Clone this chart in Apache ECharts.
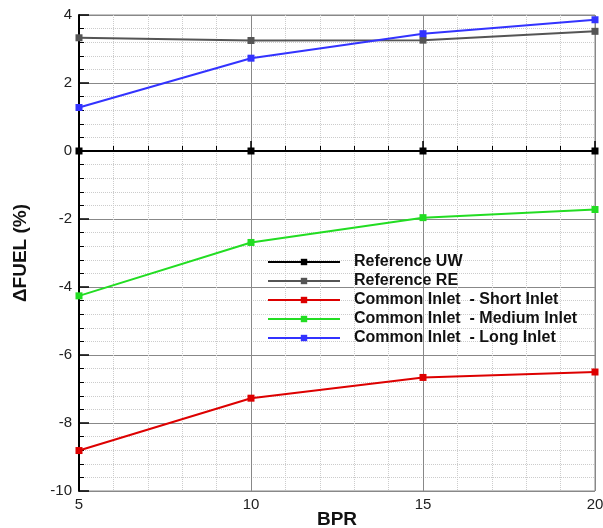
<!DOCTYPE html>
<html>
<head>
<meta charset="utf-8">
<script src="https://cdn.jsdelivr.net/npm/echarts@6/dist/echarts.min.js"></script>
<style>
  html, body { margin: 0; padding: 0; background: #fff; }
  #chart { width: 603px; height: 528px; }
</style>
</head>
<body>
<div id="chart"></div>
<script>
// Bypass ratio values on the x axis
const bpr = [5, 10, 15, 20];

// Fuel burn change (%) per configuration
const referenceUW = [0, 0, 0, 0];
const referenceRE = [3.33, 3.25, 3.26, 3.52];
const shortInlet = [-8.81, -7.27, -6.66, -6.50];
const mediumInlet = [-4.26, -2.69, -1.96, -1.72];
const longInlet = [1.28, 2.73, 3.45, 3.86];

const seriesNames = [
  'Reference UW',
  'Reference RE',
  'Common Inlet  - Short Inlet',
  'Common Inlet  - Medium Inlet',
  'Common Inlet  - Long Inlet'
];
const seriesData = [referenceUW, referenceRE, shortInlet, mediumInlet, longInlet];
const seriesColors = ['#000000', '#555555', '#dd0000', '#22dd22', '#3333ff'];

const chart = echarts.init(document.getElementById('chart'), null, { renderer: 'canvas' });

const font = 'Liberation Sans, Arial, sans-serif';

const series = seriesNames.map((name, i) => ({
  name: name,
  type: 'line',
  data: bpr.map((x, j) => [x, seriesData[i][j]]),
  symbol: 'rect',
  symbolSize: 7,
  lineStyle: { color: seriesColors[i], width: 2 },
  itemStyle: { color: seriesColors[i] },
  z: i === 0 ? 3 : 4
}));

chart.setOption({
  animation: false,
  backgroundColor: '#ffffff',
  grid: {
    left: 79, right: 8, top: 15, bottom: 37,
    outerBoundsMode: 'none',
    containLabel: false,
    show: true, borderColor: '#888888', borderWidth: 1
  },
  legend: {
    orient: 'vertical',
    left: 267, top: 254,
    padding: 0,
    itemWidth: 72, itemHeight: 8,
    itemGap: 3,
    data: seriesNames,
    textStyle: {
      fontFamily: font, fontWeight: 'bold', fontSize: 16, color: '#111',
      padding: [0, 0, 0, 9]
    }
  },
  xAxis: {
    type: 'value',
    min: 5, max: 20, interval: 5,
    name: 'BPR',
    nameLocation: 'middle',
    nameGap: 19,
    nameMoveOverlap: false,
    nameTextStyle: { fontFamily: font, fontWeight: 'bold', fontSize: 19, color: '#111' },
    axisLine: { lineStyle: { color: '#000', width: 2 } },
    axisTick: { inside: true, length: 10, lineStyle: { color: '#000', width: 1.5 } },
    minorTick: { show: true, splitNumber: 5, length: 5, lineStyle: { color: '#000' } },
    axisLabel: { fontFamily: font, fontSize: 15, color: '#222', margin: 6 },
    splitLine: { show: true, lineStyle: { color: '#888888', width: 1 } },
    minorSplitLine: { show: true, lineStyle: { color: '#cccccc', type: 'dotted', width: 1 } }
  },
  yAxis: {
    type: 'value',
    min: -10, max: 4, interval: 2,
    name: '\u0394FUEL (%)',
    nameLocation: 'middle',
    nameGap: 49,
    nameMoveOverlap: false,
    nameTextStyle: { fontFamily: font, fontWeight: 'bold', fontSize: 19, color: '#111' },
    axisLine: { lineStyle: { color: '#000', width: 2 } },
    axisTick: { inside: true, length: 10, lineStyle: { color: '#000', width: 1.5 } },
    minorTick: { show: true, splitNumber: 5, length: 5, lineStyle: { color: '#000' } },
    axisLabel: { fontFamily: font, fontSize: 15, color: '#222', margin: 7 },
    splitLine: { show: true, lineStyle: { color: '#888888', width: 1 } },
    minorSplitLine: { show: true, lineStyle: { color: '#cccccc', type: 'dotted', width: 1 } }
  },
  series: series
});
</script>
</body>
</html>
